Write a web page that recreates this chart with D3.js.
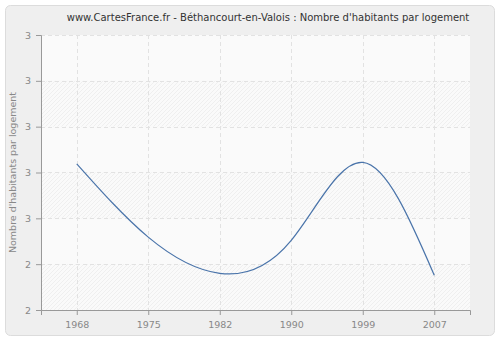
<!DOCTYPE html>
<html>
<head>
<meta charset="utf-8">
<script src="https://cdn.jsdelivr.net/npm/d3@7"></script>
<style>
  body { margin: 0; background: #fff; }
  text { font-family: "DejaVu Sans", Verdana, sans-serif; }
</style>
</head>
<body>
<div id="chart"></div>
<script>
// data
const years = ["1968", "1975", "1982", "1990", "1999", "2007"];
const values = [2.619, 2.459, 2.380, 2.452, 2.622, 2.376];
const yTicks = [2.3, 2.4, 2.5, 2.6, 2.7, 2.8, 2.9];

const W = 500, H = 340;
const margin = { top: 35, right: 30, bottom: 30, left: 41 };
const width = W - margin.left - margin.right;
const height = H - margin.top - margin.bottom;

const root = d3.select("#chart").append("svg")
    .attr("width", W)
    .attr("height", H);

// hatch pattern for plot background
const defs = root.append("defs");
defs.append("pattern")
    .attr("id", "hatch")
    .attr("patternUnits", "userSpaceOnUse")
    .attr("width", 4).attr("height", 4)
    .append("path")
    .attr("d", "M-1,1 l2,-2 M0,4 l4,-4 M3,5 l2,-2")
    .attr("stroke", "#ececec")
    .attr("stroke-width", 0.8);

// outer frame
root.append("rect")
    .attr("x", 5.5).attr("y", 5.5)
    .attr("width", 489).attr("height", 330)
    .attr("rx", 5)
    .attr("fill", "#efefef")
    .attr("stroke", "#dcdcdc");

root.append("text")
    .attr("x", 268)
    .attr("y", 21)
    .attr("text-anchor", "middle")
    .attr("font-size", 10)
    .attr("fill", "#333")
    .text("www.CartesFrance.fr - Béthancourt-en-Valois : Nombre d'habitants par logement");

const svg = root.append("g")
    .attr("transform", `translate(${margin.left},${margin.top})`);

const x = d3.scalePoint().domain(years).range([0, width]).padding(0.5);
const y = d3.scaleLinear().domain([2.3, 2.9]).range([height, 0]);

// plot background
svg.append("rect")
    .attr("width", width).attr("height", height)
    .attr("fill", "#fafafa");

// alternating hatched bands
const bands = d3.pairs(yTicks).filter((d, i) => i % 2 === 0);
svg.selectAll(".band")
    .data(bands)
    .enter().append("rect")
    .attr("class", "band")
    .attr("x", 0)
    .attr("width", width)
    .attr("y", d => y(d[1]))
    .attr("height", d => y(d[0]) - y(d[1]))
    .attr("fill", "url(#hatch)");

// grid
svg.selectAll(".hgrid")
    .data(yTicks.slice(1))
    .enter().append("line")
    .attr("x1", 0).attr("x2", width)
    .attr("y1", d => Math.round(y(d)) + 0.5)
    .attr("y2", d => Math.round(y(d)) + 0.5)
    .attr("stroke", "#e2e2e2")
    .attr("stroke-dasharray", "4,3");

svg.selectAll(".vgrid")
    .data(years)
    .enter().append("line")
    .attr("x1", d => Math.round(x(d)) + 0.5)
    .attr("x2", d => Math.round(x(d)) + 0.5)
    .attr("y1", 0).attr("y2", height)
    .attr("stroke", "#e2e2e2")
    .attr("stroke-dasharray", "4,3");

// axes
const xAxis = svg.append("g")
    .attr("transform", `translate(0,${height})`)
    .call(d3.axisBottom(x).tickSize(5).tickPadding(6));
const yAxis = svg.append("g")
    .call(d3.axisLeft(y).tickValues(yTicks).tickFormat(d3.format(".0f")).tickSize(5).tickPadding(5));

[xAxis, yAxis].forEach(a => {
    a.select(".domain").attr("stroke", "#999");
    a.selectAll(".tick line").attr("stroke", "#999");
    a.selectAll(".tick text").attr("fill", "#888").attr("font-size", 9.5)
        .attr("font-family", "DejaVu Sans, Verdana, sans-serif");
});

// y label
svg.append("text")
    .attr("transform", "rotate(-90)")
    .attr("x", -height / 2)
    .attr("y", -25)
    .attr("text-anchor", "middle")
    .attr("font-size", 9.5)
    .attr("fill", "#888")
    .text("Nombre d'habitants par logement");

// line
const line = d3.line()
    .x((d, i) => x(years[i]))
    .y(d => y(d))
    .curve(d3.curveNatural);

svg.append("path")
    .datum(values)
    .attr("fill", "none")
    .attr("stroke", "#4a74aa")
    .attr("stroke-width", 1.2)
    .attr("d", line);
</script>
</body>
</html>
